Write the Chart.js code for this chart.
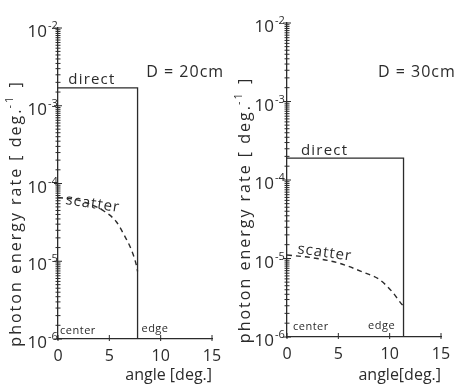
<!DOCTYPE html>
<html>
<head>
<meta charset="utf-8">
<script src="https://cdn.jsdelivr.net/npm/chart.js@4.4.0/dist/chart.umd.min.js"></script>
<style>
  body { margin: 0; background: #fff; }
  #wrap { position: relative; width: 462px; height: 389px; }
  .panel { position: absolute; top: 0; width: 231px; height: 389px; }
</style>
</head>
<body>
<div id="wrap">
  <div class="panel" style="left:0"><canvas id="c20"></canvas></div>
  <div class="panel" style="left:231px"><canvas id="c30"></canvas></div>
</div>
<script>
// axis ticks
const xTicks = [0, 5, 10, 15];
const yDecades = [1e-6, 1e-5, 1e-4, 1e-3, 1e-2];
const yExponents = ['-6', '-5', '-4', '-3', '-2'];
const minorSteps = [1.5, 2, 2.5, 3, 3.5, 4, 4.5, 5, 5.5, 6, 6.5, 7, 7.5, 8, 8.5, 9, 9.5];

// D = 20 cm
const directAngle20 = [0, 7.75, 7.75];
const directRate20 = [1.7e-3, 1.7e-3, 1e-6];
const scatterAngle20 = [0, 1.5, 3, 4.5, 5.7, 6.5, 7.15, 7.65, 7.75];
const scatterRate20 = [6.6e-5, 6.3e-5, 5.5e-5, 4.4e-5, 3.2e-5, 2.1e-5, 1.4e-5, 8.7e-6, 7.4e-6];

// D = 30 cm
const directAngle30 = [0, 11.35, 11.35];
const directRate30 = [1.9e-4, 1.9e-4, 1e-6];
const scatterAngle30 = [0, 2.5, 5.1, 7.4, 9.0, 10.3, 11.2, 11.35];
const scatterRate30 = [1.11e-5, 1.02e-5, 8.7e-6, 6.7e-6, 5.4e-6, 3.7e-6, 2.6e-6, 2.5e-6];

const ink = '#2b2b2b';
const family = "'Open Sans', sans-serif";

const toPoints = (xs, ys) => xs.map((x, i) => ({ x: x, y: ys[i] }));

const decor = {
  id: 'decor',
  afterDraw(chart, args, opts) {
    const { ctx, chartArea, scales: { x, y } } = chart;
    const ax = chartArea.left, ay = chartArea.bottom;
    ctx.save();
    ctx.strokeStyle = ink;
    ctx.fillStyle = ink;
    ctx.lineWidth = 1;

    // crossing tick marks on the log axis
    ctx.beginPath();
    yDecades.forEach((d, i) => {
      const py = y.getPixelForValue(d);
      ctx.moveTo(ax - 4, py); ctx.lineTo(ax + 4, py);
      if (i < yDecades.length - 1) {
        minorSteps.forEach(k => {
          const my = y.getPixelForValue(k * d);
          ctx.moveTo(ax - 2.5, my); ctx.lineTo(ax + 2.5, my);
        });
      }
    });
    xTicks.forEach(v => {
      const px = x.getPixelForValue(v);
      ctx.moveTo(px, ay - 4); ctx.lineTo(px, ay + 2);
    });
    ctx.stroke();

    // decade labels 10^n
    ctx.textBaseline = 'alphabetic';
    yDecades.forEach((d, i) => {
      const py = y.getPixelForValue(d);
      ctx.font = '17px ' + family;
      ctx.textAlign = 'right';
      ctx.fillText('10', ax - opts.labelGap, py + 9);
      ctx.font = '11px ' + family;
      ctx.textAlign = 'left';
      ctx.fillText(yExponents[i], ax - opts.labelGap + 1, py + 1);
    });

    // rotated y title with superscript
    ctx.save();
    ctx.translate(opts.titleX, (chartArea.top + chartArea.bottom) / 2 + 30);
    ctx.rotate(-Math.PI / 2);
    ctx.letterSpacing = '2px';
    const partA = 'photon energy rate [ deg.';
    const partB = '-1';
    const partC = ' ]';
    ctx.font = '16px ' + family;
    const wA = ctx.measureText(partA).width;
    const wC = ctx.measureText(partC).width;
    ctx.font = '11px ' + family;
    const wB = ctx.measureText(partB).width;
    const tx = -(wA + wB + wC) / 2;
    ctx.textAlign = 'left';
    ctx.font = '16px ' + family;
    ctx.fillText(partA, tx, 5);
    ctx.font = '11px ' + family;
    ctx.fillText(partB, tx + wA - 1, -3);
    ctx.font = '16px ' + family;
    ctx.fillText(partC, tx + wA + wB, 5);
    ctx.restore();

    // annotations placed in data space
    opts.notes.forEach(n => {
      ctx.save();
      ctx.translate(x.getPixelForValue(n.x) + (n.dx || 0), y.getPixelForValue(n.y) + (n.dy || 0));
      ctx.rotate((n.rot || 0) * Math.PI / 180);
      ctx.font = n.size + 'px ' + family;
      ctx.letterSpacing = (n.spacing || 0) + 'px';
      ctx.textAlign = 'left';
      ctx.fillText(n.text, 0, 0);
      ctx.restore();
    });
    ctx.restore();
  }
};

function makePanel(id, p) {
  return new Chart(document.getElementById(id), {
    type: 'scatter',
    data: {
      datasets: [
        {
          label: 'direct',
          data: toPoints(p.directAngle, p.directRate),
          showLine: true,
          borderColor: ink,
          borderWidth: 1.3,
          pointRadius: 0,
          tension: 0,
        },
        {
          label: 'scatter',
          data: toPoints(p.scatterAngle, p.scatterRate),
          showLine: true,
          borderColor: ink,
          borderWidth: 1.4,
          borderDash: [5, 4],
          pointRadius: 0,
          cubicInterpolationMode: 'monotone',
        },
      ],
    },
    options: {
      responsive: true,
      maintainAspectRatio: false,
      animation: false,
      layout: { padding: { left: 0, top: p.top, right: p.right, bottom: 0 } },
      plugins: {
        legend: { display: false },
        tooltip: { enabled: false },
        decor: { notes: p.notes, labelGap: p.labelGap, titleX: p.titleX },
      },
      scales: {
        x: {
          type: 'linear',
          min: 0,
          max: 15,
          afterBuildTicks: s => { s.ticks = xTicks.map(v => ({ value: v })); },
          afterFit: s => { s.height = p.xAxisHeight; },
          grid: { display: false, drawTicks: false },
          border: { color: ink, width: 1.3 },
          ticks: { color: ink, font: { family: family, size: 16 }, padding: 8, maxRotation: 0 },
          title: {
            display: true,
            text: p.xTitle,
            align: 'end',
            color: ink,
            font: { family: family, size: 16 },
            padding: { top: 0, bottom: 4 },
          },
        },
        y: {
          type: 'logarithmic',
          min: 1e-6,
          max: 1e-2,
          afterBuildTicks: s => { s.ticks = yDecades.map(v => ({ value: v })); },
          afterFit: s => { s.width = p.yAxisWidth; },
          grid: { display: false, drawTicks: false },
          border: { color: ink, width: 1.3 },
          ticks: { display: false },
        },
      },
    },
    plugins: [decor],
  });
}

makePanel('c20', {
  directAngle: directAngle20, directRate: directRate20,
  scatterAngle: scatterAngle20, scatterRate: scatterRate20,
  top: 28, right: 19, yAxisWidth: 58, xAxisHeight: 50, labelGap: 11, titleX: 16,
  xTitle: 'angle [deg.]',
  notes: [
    { text: 'direct', x: 1.0, y: 1.7e-3, dy: -4, size: 15, spacing: 1.2 },
    { text: 'D = 20cm', x: 8.6, y: 2.34e-3, size: 16, spacing: 1 },
    { text: 'scatter', x: 0.68, y: 5.45e-5, size: 15, spacing: 1, rot: 8.5 },
    { text: 'center', x: 0.2, y: 1.16e-6, size: 11, spacing: 0.5 },
    { text: 'edge', x: 8.13, y: 1.23e-6, size: 11, spacing: 0.5 },
  ],
});

makePanel('c30', {
  directAngle: directAngle30, directRate: directRate30,
  scatterAngle: scatterAngle30, scatterRate: scatterRate30,
  top: 23, right: 21, yAxisWidth: 56, xAxisHeight: 52, labelGap: 13, titleX: 14,
  xTitle: 'angle[deg.]',
  notes: [
    { text: 'direct', x: 1.36, y: 1.9e-4, dy: -3, size: 15, spacing: 1.2 },
    { text: 'D = 30cm', x: 8.86, y: 2.05e-3, size: 16, spacing: 1 },
    { text: 'scatter', x: 0.97, y: 1.17e-5, size: 15, spacing: 1, rot: 8 },
    { text: 'center', x: 0.58, y: 1.23e-6, size: 11, spacing: 0.5 },
    { text: 'edge', x: 7.9, y: 1.26e-6, size: 11, spacing: 0.5 },
  ],
});
</script>
</body>
</html>
